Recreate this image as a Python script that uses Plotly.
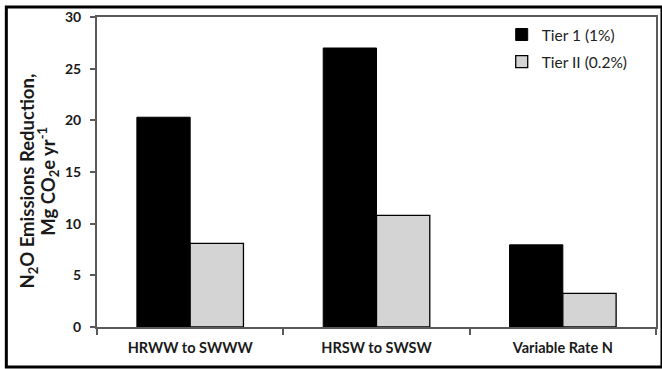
import plotly.graph_objects as go

categories = ["HRWW to SWWW", "HRSW to SWSW", "Variable Rate N"]
tier1 = [20.3, 27.0, 7.95]
tier2 = [8.1, 10.8, 3.25]
series_names = ["Tier 1 (1%)", "Tier II (0.2%)"]
y_ticks = [0, 5, 10, 15, 20, 25, 30]
y_title_lines = ["N<sub>2</sub>O Emissions Reduction,", "Mg CO<sub>2</sub>e yr<sup>-1</sup>"]

FONT = "Lato, 'Open Sans', sans-serif"
AXC = "#5a5a5a"
TXT = "#1a1a1a"

fig = go.Figure()
fig.add_trace(go.Bar(x=categories, y=tier1, name=series_names[0], legendgroup="a",
                     marker=dict(color="#000000", line=dict(color="#000000", width=1))))
fig.add_trace(go.Bar(x=categories, y=tier2, name=series_names[1], legendgroup="b",
                     marker=dict(color="#d4d4d4", line=dict(color="#000000", width=1.3))))

fig.update_layout(
    width=662, height=369,
    margin=dict(l=97, r=4, t=17, b=42),
    paper_bgcolor="white", plot_bgcolor="white",
    barmode="group", bargap=0.428, bargroupgap=0,
    font=dict(family=FONT, color=TXT),
    showlegend=True,
    legend=dict(x=0.724, y=0.997, xanchor="left", yanchor="top",
                font=dict(size=15.5, family=FONT, color="#222"),
                traceorder="grouped", tracegroupgap=4,
                bgcolor="rgba(0,0,0,0)"),
    xaxis=dict(showline=True, linecolor=AXC, linewidth=2, mirror=True,
               ticks="outside", tickson="boundaries", ticklen=6, tickcolor=AXC,
               tickwidth=1.5, ticklabelstandoff=7,
               tickfont=dict(size=14.5, family=FONT, color=TXT, weight="bold"),
               showgrid=False),
    yaxis=dict(range=[0, 30], tickvals=y_ticks, showline=True, linecolor=AXC, mirror=True,
               linewidth=2, ticks="outside", ticklen=5, tickcolor=AXC, tickwidth=1.5,
               ticklabelstandoff=6,
               tickfont=dict(size=14, family=FONT, color=TXT, weight="bold"),
               showgrid=False, zeroline=False),
)

for xp, line in zip([-0.123, -0.087], y_title_lines):
    fig.add_annotation(text=line, xref="paper", yref="paper", x=xp, y=0.47,
                       xanchor="center", yanchor="middle", textangle=-90, showarrow=False,
                       font=dict(size=18.5, family=FONT, color=TXT, weight="bold"))

fig.add_shape(type="rect", xref="paper", yref="paper",
              x0=-0.1622, x1=1.0107, y0=-0.129, y1=1.0323,
              line=dict(color="#000000", width=3), layer="above")

fig.write_html("out.html", config={"displayModeBar": False},
               post_script="document.body.style.margin='0';")
